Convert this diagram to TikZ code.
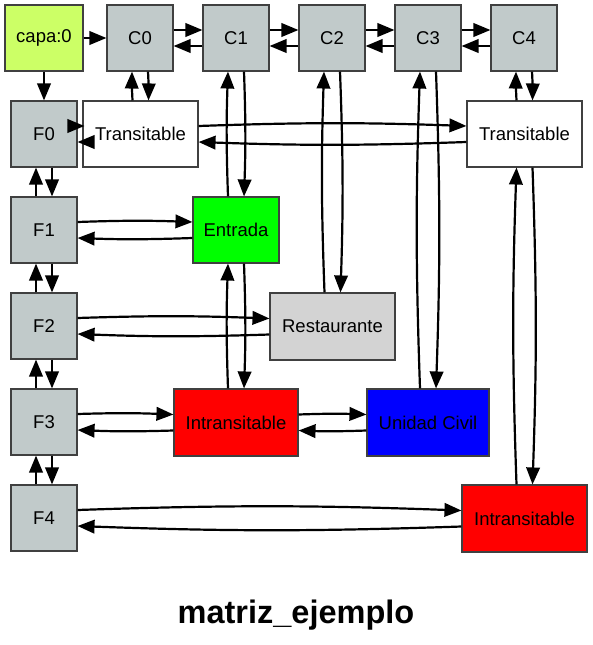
\documentclass[tikz,border=0pt]{standalone}
\usepackage{fontspec}
\setmainfont{Liberation Sans}
\usetikzlibrary{arrows.meta}

\definecolor{capaverde}{HTML}{CCFF66}
\definecolor{celdagris}{HTML}{C1CACA}
\definecolor{restgris}{HTML}{D3D3D3}

\tikzset{
  celda/.style = {rectangle,
      draw = black!75,
      line width = 1.1pt,
      inner sep = 0pt,
      minimum width = 66pt,
      minimum height = 66pt,
      font = \fontsize{18.5}{20}\selectfont},
  gris/.style = {celda, fill = celdagris},
  flecha/.style = {-{Triangle[length=17pt,width=13.5pt]}, line width = 2.2pt},
}

\begin{document}
\begin{tikzpicture}[x=1pt, y=1pt]
  \useasboundingbox (0,0) rectangle (592,-645);

  % first row: the layer and the columns
  \node[celda, fill = capaverde, minimum width = 78pt] (capa) at (44,-38) {capa:0};
  \foreach \i in {0,...,4}
    \node[gris] (C\i) at ({140+96*\i},-38) {C\i};

  % first column: the rows
  \foreach \i in {0,...,4}
    \node[gris] (F\i) at (44,{-134-96*\i}) {F\i};

  % the cells
  \node[celda, fill = white, minimum width = 115pt] (TL) at (140.5,-134) {Transitable};
  \node[celda, fill = white, minimum width = 115pt] (TR) at (524.5,-134) {Transitable};
  \node[celda, fill = green, minimum width = 86pt] (Entrada) at (236,-230) {Entrada};
  \node[celda, fill = restgris, minimum width = 125pt, minimum height = 67pt] (Rest) at (332.5,-326.5) {Restaurante};
  \node[celda, fill = red, minimum width = 124pt, minimum height = 67pt] (IM) at (236,-422.5) {Intransitable};
  \node[celda, fill = blue, minimum width = 122pt, minimum height = 67pt] (UC) at (428,-422.5) {Unidad Civil};
  \node[celda, fill = red, minimum width = 125pt, minimum height = 67pt] (IR) at (524.5,-518.5) {Intransitable};

  % title
  \node[font = \fontsize{32.5}{36}\selectfont\bfseries, anchor = base] (titulo) at (296,-623) {matriz\_ejemplo};

  % layer to first column and first row
  \draw[flecha] (capa) -- (C0);
  \draw[flecha] (capa) -- (F0);

  % neighbouring columns
  \foreach \a/\b in {C0/C1, C1/C2, C2/C3, C3/C4} {
    \draw[flecha] ([yshift=8pt]\a.east) -- ([yshift=8pt]\b.west);
    \draw[flecha] ([yshift=-8pt]\b.west) -- ([yshift=-8pt]\a.east);
  }

  % neighbouring rows
  \foreach \a/\b in {F0/F1, F1/F2, F2/F3, F3/F4} {
    \draw[flecha] ([xshift=8pt]\a.south) -- ([xshift=8pt]\b.north);
    \draw[flecha] ([xshift=-8pt]\b.north) -- ([xshift=-8pt]\a.south);
  }

  % F0 and the cell right beside it
  \draw[flecha] ([shift={(-10pt,8pt)}]F0.east) -- ([shift={(2pt,8pt)}]TL.west);
  \draw[flecha] ([shift={(10pt,-8pt)}]TL.west) -- ([yshift=-8pt]F0.east);

  % links along a row
  \foreach \a/\b in {TL/TR, F1/Entrada, F2/Rest, F3/IM, IM/UC, F4/IR} {
    \draw[flecha] ([yshift=8pt]\a.east) to[bend left=2] ([yshift=8pt]\b.west);
    \draw[flecha] ([yshift=-8pt]\b.west) to[bend left=2] ([yshift=-8pt]\a.east);
  }

  % links along a column
  \foreach \a/\b in {C0/TL, C1/Entrada, C2/Rest, C3/UC, C4/TR, Entrada/IM, TR/IR} {
    \draw[flecha] ([xshift=8pt]\a.south) to[bend left=2] ([xshift=8pt]\b.north);
    \draw[flecha] ([xshift=-8pt]\b.north) to[bend left=2] ([xshift=-8pt]\a.south);
  }
\end{tikzpicture}
\end{document}
